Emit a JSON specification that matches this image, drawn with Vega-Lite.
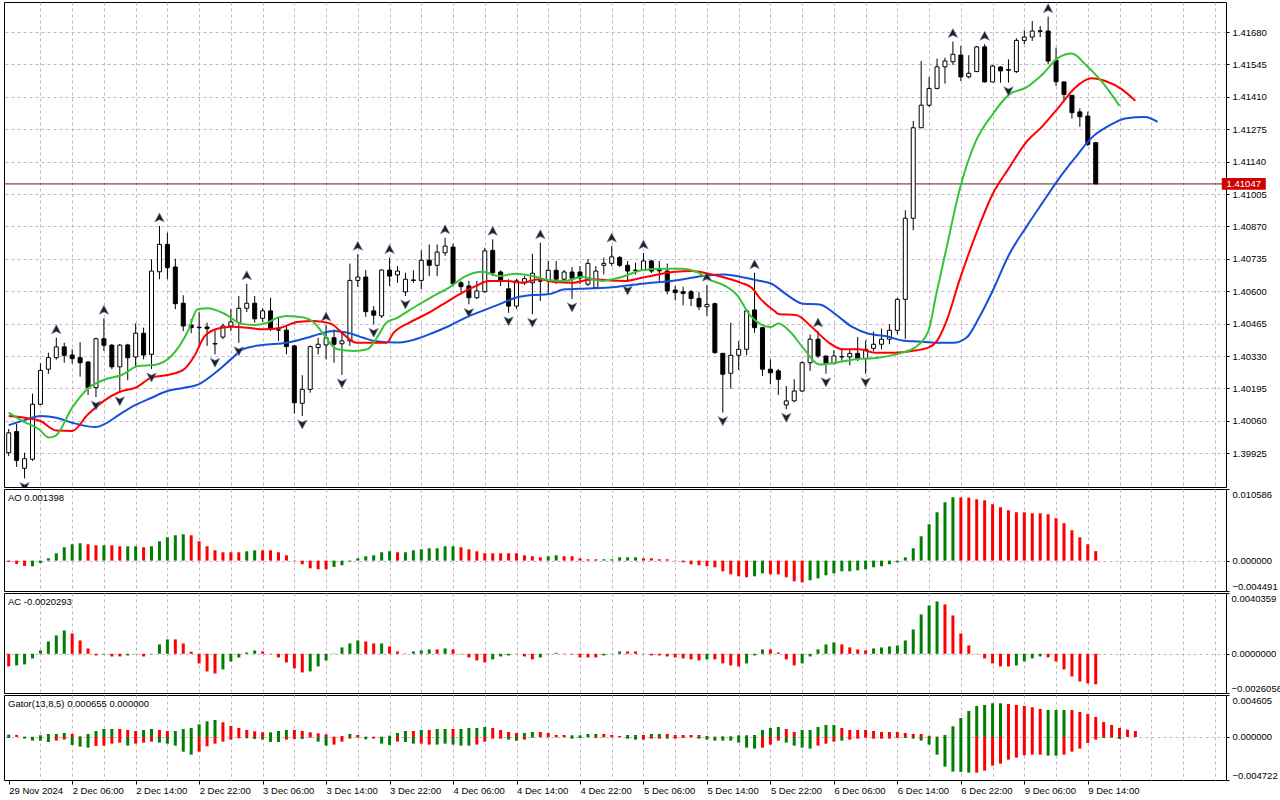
{
  "$schema": "https://vega.github.io/schema/vega-lite/v6.json",
  "padding": {"left": 3, "top": 1, "right": 0, "bottom": 0},
  "background": "white",
  "spacing": 2,
  "bounds": "flush",
  "resolve": {"scale": {"color": "independent"}},
  "config": {
    "font": "Liberation Sans",
    "view": {"stroke": "black", "strokeWidth": 1},
    "axis": {"labelFont": "Liberation Sans", "labelFontSize": 9.5, "labelColor": "black", "gridColor": "#c4b4c4", "gridDash": [3, 3], "gridWidth": 1, "domain": false, "title": null, "labelOverlap": false},
    "title": {"font": "Liberation Sans", "fontSize": 9.5, "fontWeight": "normal", "color": "black", "anchor": "start", "orient": "top", "frame": "group", "offset": -14, "dx": 4}
  },
  "datasets": {
    "bars": [
      {"i":0,"o":1.39927,"h":1.40026,"l":1.39913,"c":1.40010,"ao":-0.000197,"aos":"down","ac":-0.000841,"acs":"down"},
      {"i":1,"o":1.40015,"h":1.40048,"l":1.39868,"c":1.39895,"ao":-0.000493,"aos":"down","ac":-0.000775,"acs":"up"},
      {"i":2,"o":1.39862,"h":1.39927,"l":1.39820,"c":1.39902,"ao":-0.000789,"aos":"down","ac":-0.000708,"acs":"up"},
      {"i":3,"o":1.39900,"h":1.40173,"l":1.39893,"c":1.40129,"ao":-0.000838,"aos":"up","ac":-0.000310,"acs":"up"},
      {"i":4,"o":1.40129,"h":1.40300,"l":1.40126,"c":1.40270,"ao":-0.000345,"aos":"up","ac":0.000221,"acs":"up"},
      {"i":5,"o":1.40275,"h":1.40344,"l":1.40256,"c":1.40323,"ao":0.000345,"aos":"up","ac":0.000819,"acs":"up"},
      {"i":6,"o":1.40323,"h":1.40406,"l":1.40315,"c":1.40368,"ao":0.001085,"aos":"up","ac":0.001218,"acs":"up"},
      {"i":7,"o":1.40368,"h":1.40385,"l":1.40302,"c":1.40333,"ao":0.001972,"aos":"up","ac":0.001550,"acs":"up"},
      {"i":8,"o":1.40334,"h":1.40358,"l":1.40298,"c":1.40319,"ao":0.002416,"aos":"up","ac":0.001351,"acs":"down"},
      {"i":9,"o":1.40323,"h":1.40388,"l":1.40244,"c":1.40302,"ao":0.002564,"aos":"up","ac":0.000886,"acs":"down"},
      {"i":10,"o":1.40305,"h":1.40309,"l":1.40168,"c":1.40198,"ao":0.002416,"aos":"down","ac":0.000354,"acs":"down"},
      {"i":11,"o":1.40198,"h":1.40406,"l":1.40159,"c":1.40402,"ao":0.002268,"aos":"down","ac":-0.000111,"acs":"down"},
      {"i":12,"o":1.40402,"h":1.40487,"l":1.40351,"c":1.40375,"ao":0.002268,"aos":"up","ac":-0.000044,"acs":"up"},
      {"i":13,"o":1.40375,"h":1.40380,"l":1.40275,"c":1.40285,"ao":0.002268,"aos":"down","ac":-0.000177,"acs":"down"},
      {"i":14,"o":1.40285,"h":1.40380,"l":1.40177,"c":1.40375,"ao":0.002120,"aos":"down","ac":-0.000177,"acs":"down"},
      {"i":15,"o":1.40376,"h":1.40381,"l":1.40229,"c":1.40323,"ao":0.002120,"aos":"up","ac":-0.000111,"acs":"up"},
      {"i":16,"o":1.40326,"h":1.40466,"l":1.40284,"c":1.40425,"ao":0.002120,"aos":"up","ac":-0.000022,"acs":"up"},
      {"i":17,"o":1.40425,"h":1.40448,"l":1.40316,"c":1.40334,"ao":0.001972,"aos":"down","ac":-0.000177,"acs":"down"},
      {"i":18,"o":1.40337,"h":1.40733,"l":1.40276,"c":1.40684,"ao":0.002120,"aos":"up","ac":-0.000022,"acs":"up"},
      {"i":19,"o":1.40681,"h":1.40872,"l":1.40650,"c":1.40795,"ao":0.002859,"aos":"up","ac":0.000620,"acs":"up"},
      {"i":20,"o":1.40795,"h":1.40844,"l":1.40650,"c":1.40698,"ao":0.003451,"aos":"up","ac":0.000952,"acs":"up"},
      {"i":21,"o":1.40701,"h":1.40735,"l":1.40525,"c":1.40548,"ao":0.003747,"aos":"up","ac":0.000952,"acs":"down"},
      {"i":22,"o":1.40550,"h":1.40583,"l":1.40434,"c":1.40455,"ao":0.003895,"aos":"up","ac":0.000686,"acs":"down"},
      {"i":23,"o":1.40459,"h":1.40485,"l":1.40425,"c":1.40448,"ao":0.003747,"aos":"down","ac":0.000133,"acs":"down"},
      {"i":24,"o":1.40450,"h":1.40513,"l":1.40365,"c":1.40448,"ao":0.002859,"aos":"down","ac":-0.000642,"acs":"down"},
      {"i":25,"o":1.40451,"h":1.40469,"l":1.40372,"c":1.40444,"ao":0.002120,"aos":"down","ac":-0.001173,"acs":"down"},
      {"i":26,"o":1.40382,"h":1.40437,"l":1.40337,"c":1.40380,"ao":0.001528,"aos":"down","ac":-0.001306,"acs":"down"},
      {"i":27,"o":1.40409,"h":1.40465,"l":1.40400,"c":1.40455,"ao":0.001233,"aos":"down","ac":-0.001041,"acs":"up"},
      {"i":28,"o":1.40455,"h":1.40525,"l":1.40434,"c":1.40472,"ao":0.001233,"aos":"down","ac":-0.000509,"acs":"up"},
      {"i":29,"o":1.40469,"h":1.40580,"l":1.40385,"c":1.40529,"ao":0.001233,"aos":"down","ac":-0.000244,"acs":"up"},
      {"i":30,"o":1.40529,"h":1.40631,"l":1.40513,"c":1.40550,"ao":0.001380,"aos":"up","ac":0.000089,"acs":"up"},
      {"i":31,"o":1.40550,"h":1.40580,"l":1.40469,"c":1.40485,"ao":0.001528,"aos":"up","ac":0.000221,"acs":"up"},
      {"i":32,"o":1.40487,"h":1.40529,"l":1.40473,"c":1.40518,"ao":0.001528,"aos":"down","ac":0.000155,"acs":"down"},
      {"i":33,"o":1.40518,"h":1.40573,"l":1.40434,"c":1.40445,"ao":0.001528,"aos":"down","ac":-0.000022,"acs":"down"},
      {"i":34,"o":1.40439,"h":1.40490,"l":1.40393,"c":1.40438,"ao":0.001233,"aos":"down","ac":-0.000244,"acs":"down"},
      {"i":35,"o":1.40438,"h":1.40455,"l":1.40337,"c":1.40369,"ao":0.000789,"aos":"down","ac":-0.000576,"acs":"down"},
      {"i":36,"o":1.40372,"h":1.40376,"l":1.40090,"c":1.40135,"ao":-0.000049,"aos":"down","ac":-0.000974,"acs":"down"},
      {"i":37,"o":1.40133,"h":1.40250,"l":1.40080,"c":1.40191,"ao":-0.000542,"aos":"down","ac":-0.001240,"acs":"down"},
      {"i":38,"o":1.40191,"h":1.40374,"l":1.40177,"c":1.40369,"ao":-0.001134,"aos":"down","ac":-0.001173,"acs":"up"},
      {"i":39,"o":1.40365,"h":1.40406,"l":1.40337,"c":1.40379,"ao":-0.001282,"aos":"down","ac":-0.000841,"acs":"up"},
      {"i":40,"o":1.40376,"h":1.40459,"l":1.40316,"c":1.40406,"ao":-0.001282,"aos":"down","ac":-0.000443,"acs":"up"},
      {"i":41,"o":1.40406,"h":1.40441,"l":1.40302,"c":1.40379,"ao":-0.000937,"aos":"up","ac":0.000022,"acs":"up"},
      {"i":42,"o":1.40381,"h":1.40431,"l":1.40251,"c":1.40393,"ao":-0.000690,"aos":"up","ac":0.000421,"acs":"up"},
      {"i":43,"o":1.40393,"h":1.40715,"l":1.40372,"c":1.40645,"ao":-0.000148,"aos":"up","ac":0.000686,"acs":"up"},
      {"i":44,"o":1.40645,"h":1.40754,"l":1.40618,"c":1.40659,"ao":0.000345,"aos":"up","ac":0.000886,"acs":"up"},
      {"i":45,"o":1.40659,"h":1.40688,"l":1.40493,"c":1.40515,"ao":0.000641,"aos":"up","ac":0.000819,"acs":"down"},
      {"i":46,"o":1.40518,"h":1.40538,"l":1.40462,"c":1.40500,"ao":0.000789,"aos":"up","ac":0.000686,"acs":"down"},
      {"i":47,"o":1.40497,"h":1.40691,"l":1.40488,"c":1.40688,"ao":0.001233,"aos":"up","ac":0.000686,"acs":"up"},
      {"i":48,"o":1.40688,"h":1.40740,"l":1.40622,"c":1.40663,"ao":0.001380,"aos":"up","ac":0.000487,"acs":"down"},
      {"i":49,"o":1.40668,"h":1.40705,"l":1.40635,"c":1.40684,"ao":0.001233,"aos":"down","ac":0.000155,"acs":"down"},
      {"i":50,"o":1.40597,"h":1.40677,"l":1.40580,"c":1.40650,"ao":0.001233,"aos":"up","ac":0.000022,"acs":"down"},
      {"i":51,"o":1.40647,"h":1.40687,"l":1.40635,"c":1.40645,"ao":0.001528,"aos":"up","ac":0.000155,"acs":"up"},
      {"i":52,"o":1.40645,"h":1.40770,"l":1.40608,"c":1.40729,"ao":0.001676,"aos":"up","ac":0.000221,"acs":"up"},
      {"i":53,"o":1.40729,"h":1.40795,"l":1.40663,"c":1.40708,"ao":0.001824,"aos":"up","ac":0.000288,"acs":"up"},
      {"i":54,"o":1.40708,"h":1.40795,"l":1.40663,"c":1.40763,"ao":0.001824,"aos":"up","ac":0.000288,"acs":"down"},
      {"i":55,"o":1.40760,"h":1.40823,"l":1.40747,"c":1.40788,"ao":0.002120,"aos":"up","ac":0.000354,"acs":"up"},
      {"i":56,"o":1.40784,"h":1.40798,"l":1.40622,"c":1.40631,"ao":0.002120,"aos":"up","ac":0.000288,"acs":"down"},
      {"i":57,"o":1.40635,"h":1.40643,"l":1.40594,"c":1.40619,"ao":0.001972,"aos":"down","ac":-0.000022,"acs":"down"},
      {"i":58,"o":1.40622,"h":1.40643,"l":1.40545,"c":1.40573,"ao":0.001676,"aos":"down","ac":-0.000244,"acs":"down"},
      {"i":59,"o":1.40573,"h":1.40643,"l":1.40568,"c":1.40601,"ao":0.001380,"aos":"down","ac":-0.000443,"acs":"down"},
      {"i":60,"o":1.40598,"h":1.40781,"l":1.40593,"c":1.40768,"ao":0.001085,"aos":"down","ac":-0.000576,"acs":"down"},
      {"i":61,"o":1.40770,"h":1.40816,"l":1.40663,"c":1.40677,"ao":0.001085,"aos":"down","ac":-0.000376,"acs":"up"},
      {"i":62,"o":1.40680,"h":1.40687,"l":1.40622,"c":1.40643,"ao":0.001085,"aos":"down","ac":-0.000177,"acs":"up"},
      {"i":63,"o":1.40610,"h":1.40650,"l":1.40510,"c":1.40538,"ao":0.001085,"aos":"down","ac":-0.000111,"acs":"up"},
      {"i":64,"o":1.40538,"h":1.40651,"l":1.40526,"c":1.40643,"ao":0.001085,"aos":"down","ac":-0.000022,"acs":"up"},
      {"i":65,"o":1.40635,"h":1.40663,"l":1.40626,"c":1.40652,"ao":0.000789,"aos":"down","ac":-0.000177,"acs":"down"},
      {"i":66,"o":1.40635,"h":1.40756,"l":1.40504,"c":1.40675,"ao":0.000641,"aos":"down","ac":-0.000376,"acs":"down"},
      {"i":67,"o":1.40643,"h":1.40802,"l":1.40559,"c":1.40642,"ao":0.000493,"aos":"down","ac":-0.000244,"acs":"up"},
      {"i":68,"o":1.40643,"h":1.40726,"l":1.40588,"c":1.40687,"ao":0.000641,"aos":"up","ac":-0.000022,"acs":"up"},
      {"i":69,"o":1.40687,"h":1.40726,"l":1.40630,"c":1.40650,"ao":0.000789,"aos":"up","ac":0.000066,"acs":"up"},
      {"i":70,"o":1.40650,"h":1.40688,"l":1.40643,"c":1.40680,"ao":0.000641,"aos":"down","ac":-0.000022,"acs":"down"},
      {"i":71,"o":1.40680,"h":1.40701,"l":1.40568,"c":1.40654,"ao":0.000641,"aos":"down","ac":-0.000044,"acs":"down"},
      {"i":72,"o":1.40680,"h":1.40705,"l":1.40630,"c":1.40655,"ao":0.000345,"aos":"down","ac":-0.000244,"acs":"down"},
      {"i":73,"o":1.40629,"h":1.40734,"l":1.40622,"c":1.40716,"ao":0.000197,"aos":"down","ac":-0.000244,"acs":"down"},
      {"i":74,"o":1.40615,"h":1.40705,"l":1.40609,"c":1.40684,"ao":0.000197,"aos":"down","ac":-0.000244,"acs":"down"},
      {"i":75,"o":1.40708,"h":1.40740,"l":1.40670,"c":1.40716,"ao":0.000197,"aos":"up","ac":-0.000111,"acs":"up"},
      {"i":76,"o":1.40716,"h":1.40788,"l":1.40705,"c":1.40743,"ao":0.000197,"aos":"up","ac":-0.000022,"acs":"up"},
      {"i":77,"o":1.40740,"h":1.40747,"l":1.40701,"c":1.40708,"ao":0.000493,"aos":"up","ac":0.000155,"acs":"up"},
      {"i":78,"o":1.40708,"h":1.40726,"l":1.40638,"c":1.40684,"ao":0.000493,"aos":"up","ac":0.000155,"acs":"down"},
      {"i":79,"o":1.40688,"h":1.40719,"l":1.40670,"c":1.40686,"ao":0.000493,"aos":"up","ac":0.000155,"acs":"down"},
      {"i":80,"o":1.40687,"h":1.40759,"l":1.40684,"c":1.40726,"ao":0.000345,"aos":"down","ac":-0.000022,"acs":"down"},
      {"i":81,"o":1.40726,"h":1.40730,"l":1.40676,"c":1.40684,"ao":0.000345,"aos":"down","ac":-0.000111,"acs":"down"},
      {"i":82,"o":1.40689,"h":1.40726,"l":1.40643,"c":1.40685,"ao":0.000197,"aos":"down","ac":-0.000111,"acs":"down"},
      {"i":83,"o":1.40684,"h":1.40715,"l":1.40587,"c":1.40601,"ao":0.000197,"aos":"down","ac":-0.000177,"acs":"down"},
      {"i":84,"o":1.40605,"h":1.40622,"l":1.40562,"c":1.40594,"ao":-0.000049,"aos":"down","ac":-0.000244,"acs":"down"},
      {"i":85,"o":1.40598,"h":1.40619,"l":1.40541,"c":1.40591,"ao":-0.000247,"aos":"down","ac":-0.000310,"acs":"down"},
      {"i":86,"o":1.40598,"h":1.40605,"l":1.40538,"c":1.40570,"ao":-0.000542,"aos":"down","ac":-0.000376,"acs":"down"},
      {"i":87,"o":1.40570,"h":1.40597,"l":1.40522,"c":1.40535,"ao":-0.000690,"aos":"down","ac":-0.000443,"acs":"down"},
      {"i":88,"o":1.40535,"h":1.40625,"l":1.40497,"c":1.40545,"ao":-0.000838,"aos":"down","ac":-0.000376,"acs":"up"},
      {"i":89,"o":1.40548,"h":1.40552,"l":1.40340,"c":1.40344,"ao":-0.000986,"aos":"down","ac":-0.000376,"acs":"down"},
      {"i":90,"o":1.40341,"h":1.40343,"l":1.40094,"c":1.40254,"ao":-0.001578,"aos":"down","ac":-0.000642,"acs":"down"},
      {"i":91,"o":1.40258,"h":1.40469,"l":1.40194,"c":1.40333,"ao":-0.002021,"aos":"down","ac":-0.000775,"acs":"down"},
      {"i":92,"o":1.40333,"h":1.40393,"l":1.40272,"c":1.40358,"ao":-0.002317,"aos":"down","ac":-0.000841,"acs":"down"},
      {"i":93,"o":1.40358,"h":1.40525,"l":1.40333,"c":1.40518,"ao":-0.002465,"aos":"down","ac":-0.000642,"acs":"up"},
      {"i":94,"o":1.40522,"h":1.40677,"l":1.40427,"c":1.40448,"ao":-0.002317,"aos":"up","ac":-0.000111,"acs":"up"},
      {"i":95,"o":1.40448,"h":1.40451,"l":1.40247,"c":1.40275,"ao":-0.001873,"aos":"up","ac":0.000288,"acs":"up"},
      {"i":96,"o":1.40275,"h":1.40316,"l":1.40212,"c":1.40260,"ao":-0.002021,"aos":"down","ac":0.000288,"acs":"down"},
      {"i":97,"o":1.40268,"h":1.40276,"l":1.40168,"c":1.40233,"ao":-0.002021,"aos":"down","ac":0.000089,"acs":"down"},
      {"i":98,"o":1.40126,"h":1.40205,"l":1.40108,"c":1.40143,"ao":-0.002465,"aos":"down","ac":-0.000376,"acs":"down"},
      {"i":99,"o":1.40143,"h":1.40233,"l":1.40138,"c":1.40184,"ao":-0.003057,"aos":"down","ac":-0.000775,"acs":"down"},
      {"i":100,"o":1.40184,"h":1.40309,"l":1.40180,"c":1.40302,"ao":-0.003205,"aos":"down","ac":-0.000642,"acs":"up"},
      {"i":101,"o":1.40302,"h":1.40420,"l":1.40268,"c":1.40400,"ao":-0.002909,"aos":"up","ac":-0.000177,"acs":"up"},
      {"i":102,"o":1.40400,"h":1.40434,"l":1.40322,"c":1.40330,"ao":-0.002613,"aos":"up","ac":0.000288,"acs":"up"},
      {"i":103,"o":1.40330,"h":1.40331,"l":1.40256,"c":1.40298,"ao":-0.002169,"aos":"up","ac":0.000620,"acs":"up"},
      {"i":104,"o":1.40298,"h":1.40354,"l":1.40297,"c":1.40330,"ao":-0.001873,"aos":"up","ac":0.000753,"acs":"up"},
      {"i":105,"o":1.40328,"h":1.40362,"l":1.40309,"c":1.40326,"ao":-0.001578,"aos":"up","ac":0.000620,"acs":"down"},
      {"i":106,"o":1.40326,"h":1.40360,"l":1.40291,"c":1.40341,"ao":-0.001578,"aos":"up","ac":0.000421,"acs":"down"},
      {"i":107,"o":1.40341,"h":1.40409,"l":1.40309,"c":1.40319,"ao":-0.001430,"aos":"up","ac":0.000288,"acs":"down"},
      {"i":108,"o":1.40319,"h":1.40395,"l":1.40256,"c":1.40358,"ao":-0.001282,"aos":"up","ac":0.000221,"acs":"down"},
      {"i":109,"o":1.40362,"h":1.40431,"l":1.40351,"c":1.40379,"ao":-0.000986,"aos":"up","ac":0.000354,"acs":"up"},
      {"i":110,"o":1.40379,"h":1.40444,"l":1.40358,"c":1.40400,"ao":-0.000838,"aos":"up","ac":0.000421,"acs":"up"},
      {"i":111,"o":1.40400,"h":1.40462,"l":1.40379,"c":1.40437,"ao":-0.000542,"aos":"up","ac":0.000487,"acs":"up"},
      {"i":112,"o":1.40437,"h":1.40573,"l":1.40420,"c":1.40566,"ao":-0.000247,"aos":"up","ac":0.000554,"acs":"up"},
      {"i":113,"o":1.40566,"h":1.40937,"l":1.40401,"c":1.40904,"ao":0.000493,"aos":"up","ac":0.000886,"acs":"up"},
      {"i":114,"o":1.40904,"h":1.41309,"l":1.40854,"c":1.41281,"ao":0.001824,"aos":"up","ac":0.001616,"acs":"up"},
      {"i":115,"o":1.41281,"h":1.41559,"l":1.41280,"c":1.41375,"ao":0.003599,"aos":"up","ac":0.002613,"acs":"up"},
      {"i":116,"o":1.41375,"h":1.41493,"l":1.41368,"c":1.41445,"ao":0.005374,"aos":"up","ac":0.003210,"acs":"up"},
      {"i":117,"o":1.41445,"h":1.41569,"l":1.41441,"c":1.41535,"ao":0.007149,"aos":"up","ac":0.003476,"acs":"up"},
      {"i":118,"o":1.41535,"h":1.41573,"l":1.41465,"c":1.41559,"ao":0.008628,"aos":"up","ac":0.003277,"acs":"down"},
      {"i":119,"o":1.41556,"h":1.41640,"l":1.41543,"c":1.41587,"ao":0.009367,"aos":"up","ac":0.002546,"acs":"down"},
      {"i":120,"o":1.41584,"h":1.41622,"l":1.41476,"c":1.41493,"ao":0.009340,"aos":"down","ac":0.001351,"acs":"down"},
      {"i":121,"o":1.41493,"h":1.41583,"l":1.41487,"c":1.41508,"ao":0.009310,"aos":"down","ac":0.000554,"acs":"down"},
      {"i":122,"o":1.41515,"h":1.41622,"l":1.41513,"c":1.41618,"ao":0.009071,"aos":"down","ac":-0.000022,"acs":"down"},
      {"i":123,"o":1.41618,"h":1.41629,"l":1.41469,"c":1.41472,"ao":0.008923,"aos":"down","ac":-0.000310,"acs":"down"},
      {"i":124,"o":1.41472,"h":1.41543,"l":1.41471,"c":1.41538,"ao":0.008332,"aos":"down","ac":-0.000642,"acs":"down"},
      {"i":125,"o":1.41534,"h":1.41538,"l":1.41469,"c":1.41518,"ao":0.007888,"aos":"down","ac":-0.000841,"acs":"down"},
      {"i":126,"o":1.41523,"h":1.41566,"l":1.41469,"c":1.41521,"ao":0.007444,"aos":"down","ac":-0.000845,"acs":"down"},
      {"i":127,"o":1.41515,"h":1.41654,"l":1.41509,"c":1.41645,"ao":0.007149,"aos":"down","ac":-0.000775,"acs":"up"},
      {"i":128,"o":1.41645,"h":1.41687,"l":1.41629,"c":1.41659,"ao":0.007140,"aos":"down","ac":-0.000509,"acs":"up"},
      {"i":129,"o":1.41659,"h":1.41726,"l":1.41643,"c":1.41684,"ao":0.007001,"aos":"down","ac":-0.000310,"acs":"up"},
      {"i":130,"o":1.41685,"h":1.41705,"l":1.41659,"c":1.41683,"ao":0.006990,"aos":"down","ac":-0.000177,"acs":"up"},
      {"i":131,"o":1.41684,"h":1.41744,"l":1.41545,"c":1.41559,"ao":0.006853,"aos":"down","ac":-0.000244,"acs":"down"},
      {"i":132,"o":1.41562,"h":1.41615,"l":1.41455,"c":1.41473,"ao":0.006261,"aos":"down","ac":-0.000509,"acs":"down"},
      {"i":133,"o":1.41472,"h":1.41473,"l":1.41393,"c":1.41420,"ao":0.005522,"aos":"down","ac":-0.001041,"acs":"down"},
      {"i":134,"o":1.41416,"h":1.41417,"l":1.41319,"c":1.41344,"ao":0.004486,"aos":"down","ac":-0.001506,"acs":"down"},
      {"i":135,"o":1.41347,"h":1.41362,"l":1.41285,"c":1.41327,"ao":0.003451,"aos":"down","ac":-0.001838,"acs":"down"},
      {"i":136,"o":1.41330,"h":1.41348,"l":1.41205,"c":1.41212,"ao":0.002416,"aos":"down","ac":-0.001970,"acs":"down"},
      {"i":137,"o":1.41219,"h":1.41219,"l":1.41047,"c":1.41047,"ao":0.001398,"aos":"down","ac":-0.0020293,"acs":"down"}
    ],
    "lines": [
      {"s":"jaw","i":0,"p":1.40042},{"s":"jaw","i":2,"p":1.40063},{"s":"jaw","i":4,"p":1.40080},{"s":"jaw","i":6,"p":1.40073},{"s":"jaw","i":8,"p":1.40052},{"s":"jaw","i":11,"p":1.40034},{"s":"jaw","i":12,"p":1.40045},{"s":"jaw","i":14,"p":1.40087},{"s":"jaw","i":16,"p":1.40126},{"s":"jaw","i":18,"p":1.40156},{"s":"jaw","i":20,"p":1.40184},{"s":"jaw","i":22,"p":1.40197},{"s":"jaw","i":24,"p":1.40213},{"s":"jaw","i":26,"p":1.40259},{"s":"jaw","i":28,"p":1.40316},{"s":"jaw","i":29.5,"p":1.40358},{"s":"jaw","i":32,"p":1.40376},{"s":"jaw","i":35,"p":1.40385},{"s":"jaw","i":37.6,"p":1.40406},{"s":"jaw","i":39,"p":1.40420},{"s":"jaw","i":41,"p":1.40434},{"s":"jaw","i":42.7,"p":1.40427},{"s":"jaw","i":44.7,"p":1.40406},{"s":"jaw","i":46,"p":1.40393},{"s":"jaw","i":49,"p":1.40386},{"s":"jaw","i":50.5,"p":1.40393},{"s":"jaw","i":53.5,"p":1.40427},{"s":"jaw","i":55.5,"p":1.40455},{"s":"jaw","i":57.6,"p":1.40490},{"s":"jaw","i":59.7,"p":1.40518},{"s":"jaw","i":61.8,"p":1.40545},{"s":"jaw","i":63.9,"p":1.40573},{"s":"jaw","i":66,"p":1.40584},{"s":"jaw","i":68,"p":1.40587},{"s":"jaw","i":70.1,"p":1.40608},{"s":"jaw","i":72,"p":1.40610},{"s":"jaw","i":75.7,"p":1.40615},{"s":"jaw","i":79.8,"p":1.40631},{"s":"jaw","i":84,"p":1.40645},{"s":"jaw","i":86.1,"p":1.40656},{"s":"jaw","i":88.2,"p":1.40666},{"s":"jaw","i":90.3,"p":1.40670},{"s":"jaw","i":92.3,"p":1.40659},{"s":"jaw","i":94.4,"p":1.40645},{"s":"jaw","i":96.2,"p":1.40630},{"s":"jaw","i":98,"p":1.40587},{"s":"jaw","i":100.1,"p":1.40548},{"s":"jaw","i":102.2,"p":1.40545},{"s":"jaw","i":104.2,"p":1.40504},{"s":"jaw","i":106.3,"p":1.40451},{"s":"jaw","i":108.4,"p":1.40423},{"s":"jaw","i":110.5,"p":1.40413},{"s":"jaw","i":112.6,"p":1.40395},{"s":"jaw","i":114.7,"p":1.40390},{"s":"jaw","i":117,"p":1.40385},{"s":"jaw","i":119,"p":1.40385},{"s":"jaw","i":120.7,"p":1.40406},{"s":"jaw","i":122.3,"p":1.40490},{"s":"jaw","i":124,"p":1.40601},{"s":"jaw","i":126.1,"p":1.40754},{"s":"jaw","i":128.2,"p":1.40865},{"s":"jaw","i":130.3,"p":1.40969},{"s":"jaw","i":132.3,"p":1.41066},{"s":"jaw","i":134.4,"p":1.41156},{"s":"jaw","i":136.5,"p":1.41240},{"s":"jaw","i":138.6,"p":1.41288},{"s":"jaw","i":140.7,"p":1.41320},{"s":"jaw","i":143.2,"p":1.41326},{"s":"jaw","i":144.8,"p":1.41306},
      {"s":"teeth","i":0,"p":1.40080},{"s":"teeth","i":2,"p":1.40073},{"s":"teeth","i":4,"p":1.40059},{"s":"teeth","i":6,"p":1.40020},{"s":"teeth","i":8,"p":1.40018},{"s":"teeth","i":10,"p":1.40087},{"s":"teeth","i":12,"p":1.40143},{"s":"teeth","i":14,"p":1.40181},{"s":"teeth","i":16,"p":1.40198},{"s":"teeth","i":18,"p":1.40240},{"s":"teeth","i":20,"p":1.40251},{"s":"teeth","i":22,"p":1.40272},{"s":"teeth","i":23.4,"p":1.40330},{"s":"teeth","i":24.7,"p":1.40413},{"s":"teeth","i":26.4,"p":1.40445},{"s":"teeth","i":28.1,"p":1.40452},{"s":"teeth","i":30.1,"p":1.40448},{"s":"teeth","i":32.2,"p":1.40441},{"s":"teeth","i":34.3,"p":1.40448},{"s":"teeth","i":36.4,"p":1.40472},{"s":"teeth","i":38.5,"p":1.40476},{"s":"teeth","i":40.6,"p":1.40465},{"s":"teeth","i":42.2,"p":1.40420},{"s":"teeth","i":43.9,"p":1.40385},{"s":"teeth","i":47.6,"p":1.40385},{"s":"teeth","i":48.5,"p":1.40426},{"s":"teeth","i":50.5,"p":1.40469},{"s":"teeth","i":52.6,"p":1.40504},{"s":"teeth","i":54.7,"p":1.40545},{"s":"teeth","i":56.8,"p":1.40587},{"s":"teeth","i":58.9,"p":1.40622},{"s":"teeth","i":60.5,"p":1.40643},{"s":"teeth","i":62.6,"p":1.40643},{"s":"teeth","i":64.7,"p":1.40635},{"s":"teeth","i":66.8,"p":1.40650},{"s":"teeth","i":68.9,"p":1.40638},{"s":"teeth","i":71,"p":1.40635},{"s":"teeth","i":73.6,"p":1.40650},{"s":"teeth","i":75.7,"p":1.40645},{"s":"teeth","i":77.8,"p":1.40643},{"s":"teeth","i":79.8,"p":1.40656},{"s":"teeth","i":81.9,"p":1.40670},{"s":"teeth","i":84,"p":1.40681},{"s":"teeth","i":86.1,"p":1.40684},{"s":"teeth","i":88.2,"p":1.40673},{"s":"teeth","i":90.3,"p":1.40656},{"s":"teeth","i":92.3,"p":1.40635},{"s":"teeth","i":93.6,"p":1.40615},{"s":"teeth","i":94.8,"p":1.40566},{"s":"teeth","i":96.5,"p":1.40518},{"s":"teeth","i":97.1,"p":1.40504},{"s":"teeth","i":99.2,"p":1.40501},{"s":"teeth","i":101.3,"p":1.40448},{"s":"teeth","i":103.4,"p":1.40385},{"s":"teeth","i":105.1,"p":1.40358},{"s":"teeth","i":107.2,"p":1.40358},{"s":"teeth","i":109.2,"p":1.40344},{"s":"teeth","i":111.7,"p":1.40344},{"s":"teeth","i":113.8,"p":1.40351},{"s":"teeth","i":115.9,"p":1.40365},{"s":"teeth","i":117,"p":1.40393},{"s":"teeth","i":118.2,"p":1.40476},{"s":"teeth","i":119.8,"p":1.40643},{"s":"teeth","i":121.9,"p":1.40837},{"s":"teeth","i":124,"p":1.41004},{"s":"teeth","i":126.1,"p":1.41115},{"s":"teeth","i":128.2,"p":1.41219},{"s":"teeth","i":130.3,"p":1.41288},{"s":"teeth","i":132.3,"p":1.41365},{"s":"teeth","i":134.4,"p":1.41448},{"s":"teeth","i":136.5,"p":1.41487},{"s":"teeth","i":138.2,"p":1.41476},{"s":"teeth","i":140.3,"p":1.41441},{"s":"teeth","i":142,"p":1.41393},
      {"s":"lips","i":0,"p":1.40094},{"s":"lips","i":1.75,"p":1.40059},{"s":"lips","i":3.8,"p":1.40025},{"s":"lips","i":5.1,"p":1.39990},{"s":"lips","i":5.9,"p":1.39997},{"s":"lips","i":8,"p":1.40115},{"s":"lips","i":10.1,"p":1.40198},{"s":"lips","i":12.2,"p":1.40233},{"s":"lips","i":14.25,"p":1.40251},{"s":"lips","i":16.3,"p":1.40288},{"s":"lips","i":18.4,"p":1.40293},{"s":"lips","i":20.5,"p":1.40330},{"s":"lips","i":22.6,"p":1.40434},{"s":"lips","i":23.8,"p":1.40525},{"s":"lips","i":25.1,"p":1.40529},{"s":"lips","i":27.2,"p":1.40506},{"s":"lips","i":29.3,"p":1.40465},{"s":"lips","i":31,"p":1.40459},{"s":"lips","i":32.6,"p":1.40469},{"s":"lips","i":33.9,"p":1.40490},{"s":"lips","i":35.1,"p":1.40497},{"s":"lips","i":37.2,"p":1.40490},{"s":"lips","i":38.5,"p":1.40469},{"s":"lips","i":39.7,"p":1.40420},{"s":"lips","i":41.4,"p":1.40358},{"s":"lips","i":43.5,"p":1.40351},{"s":"lips","i":45.2,"p":1.40358},{"s":"lips","i":46.4,"p":1.40406},{"s":"lips","i":47.6,"p":1.40469},{"s":"lips","i":48.9,"p":1.40488},{"s":"lips","i":51,"p":1.40531},{"s":"lips","i":53.5,"p":1.40580},{"s":"lips","i":55.5,"p":1.40615},{"s":"lips","i":57.6,"p":1.40663},{"s":"lips","i":59.7,"p":1.40681},{"s":"lips","i":61.8,"p":1.40663},{"s":"lips","i":63.9,"p":1.40673},{"s":"lips","i":66,"p":1.40663},{"s":"lips","i":68,"p":1.40647},{"s":"lips","i":70.1,"p":1.40643},{"s":"lips","i":72.2,"p":1.40659},{"s":"lips","i":73.6,"p":1.40650},{"s":"lips","i":74.8,"p":1.40643},{"s":"lips","i":76.9,"p":1.40656},{"s":"lips","i":79.8,"p":1.40687},{"s":"lips","i":81.9,"p":1.40694},{"s":"lips","i":84.8,"p":1.40694},{"s":"lips","i":86.9,"p":1.40677},{"s":"lips","i":88.2,"p":1.40650},{"s":"lips","i":90.3,"p":1.40622},{"s":"lips","i":91.9,"p":1.40580},{"s":"lips","i":93.2,"p":1.40510},{"s":"lips","i":94.8,"p":1.40462},{"s":"lips","i":96,"p":1.40451},{"s":"lips","i":97,"p":1.40465},{"s":"lips","i":98.4,"p":1.40434},{"s":"lips","i":100.1,"p":1.40365},{"s":"lips","i":102.2,"p":1.40295},{"s":"lips","i":104.2,"p":1.40302},{"s":"lips","i":106.7,"p":1.40316},{"s":"lips","i":109.6,"p":1.40323},{"s":"lips","i":112.6,"p":1.40344},{"s":"lips","i":114.2,"p":1.40365},{"s":"lips","i":115.9,"p":1.40434},{"s":"lips","i":116.9,"p":1.40587},{"s":"lips","i":118.2,"p":1.40781},{"s":"lips","i":119.8,"p":1.41018},{"s":"lips","i":121.9,"p":1.41226},{"s":"lips","i":124,"p":1.41337},{"s":"lips","i":126.1,"p":1.41420},{"s":"lips","i":128.2,"p":1.41448},{"s":"lips","i":130.3,"p":1.41504},{"s":"lips","i":132.3,"p":1.41573},{"s":"lips","i":134,"p":1.41590},{"s":"lips","i":135.7,"p":1.41545},{"s":"lips","i":137.7,"p":1.41476},{"s":"lips","i":140,"p":1.41372}
    ],
    "fractals": [
      {"i":6,"t":"up","p":1.40406},{"i":12,"t":"up","p":1.40487},{"i":19,"t":"up","p":1.40872},{"i":30,"t":"up","p":1.40631},{"i":40,"t":"up","p":1.40459},{"i":44,"t":"up","p":1.40754},{"i":48,"t":"up","p":1.40740},{"i":55,"t":"up","p":1.40823},{"i":61,"t":"up","p":1.40816},{"i":67,"t":"up","p":1.40802},{"i":76,"t":"up","p":1.40788},{"i":80,"t":"up","p":1.40759},{"i":88,"t":"up","p":1.40625},{"i":94,"t":"up","p":1.40677},{"i":102,"t":"up","p":1.40434},{"i":119,"t":"up","p":1.41640},{"i":123,"t":"up","p":1.41629},{"i":131,"t":"up","p":1.41744},
      {"i":2,"t":"down","p":1.39820},{"i":11,"t":"down","p":1.40159},{"i":14,"t":"down","p":1.40177},{"i":18,"t":"down","p":1.40276},{"i":26,"t":"down","p":1.40337},{"i":29,"t":"down","p":1.40385},{"i":37,"t":"down","p":1.40080},{"i":42,"t":"down","p":1.40251},{"i":46,"t":"down","p":1.40462},{"i":50,"t":"down","p":1.40580},{"i":58,"t":"down","p":1.40545},{"i":63,"t":"down","p":1.40510},{"i":66,"t":"down","p":1.40504},{"i":71,"t":"down","p":1.40568},{"i":78,"t":"down","p":1.40638},{"i":90,"t":"down","p":1.40094},{"i":98,"t":"down","p":1.40108},{"i":103,"t":"down","p":1.40256},{"i":108,"t":"down","p":1.40256},{"i":126,"t":"down","p":1.41469}
    ],
    "gator": [
      {"i":0,"gu":0.000256,"gus":"up","gd":-0.000110,"gds":"up"},
      {"i":1,"gu":0.000219,"gus":"down"},
      {"i":2,"gu":0.000037,"gus":"up","gd":-0.000183,"gds":"up"},
      {"i":3,"gu":0.000018,"gus":"up","gd":-0.000402,"gds":"up"},
      {"i":4,"gu":0.000183,"gus":"up","gd":-0.000402,"gds":"up"},
      {"i":5,"gu":0.000329,"gus":"up","gd":-0.000549,"gds":"up"},
      {"i":6,"gu":0.000329,"gus":"up","gd":-0.000402,"gds":"down"},
      {"i":7,"gu":0.000439,"gus":"up","gd":-0.000293,"gds":"down"},
      {"i":8,"gu":0.000329,"gus":"down","gd":-0.000878,"gds":"up"},
      {"i":9,"gu":0.000073,"gus":"down","gd":-0.001061,"gds":"up"},
      {"i":10,"gu":0.000329,"gus":"up","gd":-0.001171,"gds":"up"},
      {"i":11,"gu":0.000658,"gus":"up","gd":-0.000988,"gds":"down"},
      {"i":12,"gu":0.000878,"gus":"up","gd":-0.000951,"gds":"down"},
      {"i":13,"gu":0.000878,"gus":"up","gd":-0.000732,"gds":"down"},
      {"i":14,"gu":0.000878,"gus":"down","gd":-0.000622,"gds":"down"},
      {"i":15,"gu":0.000768,"gus":"down","gd":-0.000951,"gds":"up"},
      {"i":16,"gu":0.000658,"gus":"down","gd":-0.000732,"gds":"down"},
      {"i":17,"gu":0.000768,"gus":"up","gd":-0.000622,"gds":"down"},
      {"i":18,"gu":0.000878,"gus":"up","gd":-0.000512,"gds":"down"},
      {"i":19,"gu":0.000768,"gus":"down","gd":-0.000622,"gds":"up"},
      {"i":20,"gu":0.000658,"gus":"down","gd":-0.000732,"gds":"up"},
      {"i":21,"gu":0.000658,"gus":"up","gd":-0.000951,"gds":"up"},
      {"i":22,"gu":0.000878,"gus":"up","gd":-0.001610,"gds":"up"},
      {"i":23,"gu":0.000988,"gus":"up","gd":-0.001939,"gds":"up"},
      {"i":24,"gu":0.001390,"gus":"up","gd":-0.001610,"gds":"down"},
      {"i":25,"gu":0.001719,"gus":"up","gd":-0.001024,"gds":"down"},
      {"i":26,"gu":0.001866,"gus":"up","gd":-0.000732,"gds":"down"},
      {"i":27,"gu":0.001610,"gus":"down","gd":-0.000512,"gds":"down"},
      {"i":28,"gu":0.001207,"gus":"down","gd":-0.000293,"gds":"down"},
      {"i":29,"gu":0.000988,"gus":"down","gd":-0.000146,"gds":"down"},
      {"i":30,"gu":0.000768,"gus":"down","gd":-0.000146,"gds":"up"},
      {"i":31,"gu":0.000622,"gus":"down","gd":-0.000219,"gds":"up"},
      {"i":32,"gu":0.000512,"gus":"down","gd":-0.000293,"gds":"up"},
      {"i":33,"gu":0.000512,"gus":"up","gd":-0.000549,"gds":"up"},
      {"i":34,"gu":0.000658,"gus":"up","gd":-0.000549,"gds":"up"},
      {"i":35,"gu":0.000768,"gus":"up","gd":-0.000293,"gds":"down"},
      {"i":36,"gu":0.000768,"gus":"down","gd":-0.000219,"gds":"down"},
      {"i":37,"gu":0.000658,"gus":"down","gd":-0.000219,"gds":"up"},
      {"i":38,"gu":0.000512,"gus":"down","gd":-0.000073,"gds":"down"},
      {"i":39,"gu":0.000402,"gus":"down","gd":-0.000512,"gds":"up"},
      {"i":40,"gu":0.000293,"gus":"down","gd":-0.000951,"gds":"up"},
      {"i":41,"gu":0.000037,"gus":"down","gd":-0.000841,"gds":"down"},
      {"i":42,"gu":0.000110,"gus":"down","gd":-0.000512,"gds":"down"},
      {"i":43,"gu":0.000329,"gus":"up","gd":-0.000183,"gds":"down"},
      {"i":44,"gu":0.000219,"gus":"down","gd":-0.000073,"gds":"down"},
      {"i":45,"gu":0.000037,"gus":"up","gd":-0.000256,"gds":"up"},
      {"i":46,"gu":0.000037,"gus":"down","gd":-0.000183,"gds":"down"},
      {"i":47,"gu":0.000037,"gus":"up","gd":-0.000732,"gds":"up"},
      {"i":48,"gu":0.000146,"gus":"up","gd":-0.000878,"gds":"up"},
      {"i":49,"gu":0.000439,"gus":"up","gd":-0.000512,"gds":"down"},
      {"i":50,"gu":0.000658,"gus":"up","gd":-0.000549,"gds":"up"},
      {"i":51,"gu":0.000658,"gus":"down","gd":-0.000732,"gds":"up"},
      {"i":52,"gu":0.000768,"gus":"up","gd":-0.000732,"gds":"down"},
      {"i":53,"gu":0.000768,"gus":"down","gd":-0.000841,"gds":"down"},
      {"i":54,"gu":0.000878,"gus":"up","gd":-0.000841,"gds":"up"},
      {"i":55,"gu":0.000878,"gus":"up","gd":-0.000732,"gds":"up"},
      {"i":56,"gu":0.000878,"gus":"down","gd":-0.000841,"gds":"up"},
      {"i":57,"gu":0.000878,"gus":"up","gd":-0.000951,"gds":"up"},
      {"i":58,"gu":0.000988,"gus":"up","gd":-0.000951,"gds":"up"},
      {"i":59,"gu":0.000988,"gus":"up","gd":-0.000841,"gds":"down"},
      {"i":60,"gu":0.001097,"gus":"up","gd":-0.000512,"gds":"down"},
      {"i":61,"gu":0.000988,"gus":"down","gd":-0.000183,"gds":"down"},
      {"i":62,"gu":0.000768,"gus":"down","gd":-0.000183,"gds":"down"},
      {"i":63,"gu":0.000549,"gus":"down","gd":-0.000293,"gds":"up"},
      {"i":64,"gu":0.000439,"gus":"down","gd":-0.000402,"gds":"up"},
      {"i":65,"gu":0.000439,"gus":"up","gd":-0.000293,"gds":"down"},
      {"i":66,"gu":0.000549,"gus":"up","gd":-0.000073,"gds":"up"},
      {"i":67,"gu":0.000549,"gus":"down","gd":-0.000037,"gds":"up"},
      {"i":68,"gu":0.000439,"gus":"down","gd":-0.000037,"gds":"up"},
      {"i":69,"gu":0.000219,"gus":"down","gd":-0.000037,"gds":"up"},
      {"i":70,"gu":0.000219,"gus":"down","gd":-0.000037,"gds":"down"},
      {"i":71,"gu":0.000183,"gus":"up","gd":-0.000183,"gds":"up"},
      {"i":72,"gu":0.000183,"gus":"up","gd":-0.000110,"gds":"up"},
      {"i":73,"gu":0.000329,"gus":"up","gd":-0.000037,"gds":"up"},
      {"i":74,"gu":0.000329,"gus":"up","gd":-0.000110,"gds":"down"},
      {"i":75,"gu":0.000329,"gus":"down","gd":-0.000037,"gds":"down"},
      {"i":76,"gu":0.000219,"gus":"down","gd":-0.000037,"gds":"down"},
      {"i":77,"gu":0.000110,"gus":"down","gd":-0.000037,"gds":"up"},
      {"i":78,"gu":0.000219,"gus":"up","gd":-0.000183,"gds":"up"},
      {"i":79,"gu":0.000219,"gus":"up","gd":-0.000293,"gds":"up"},
      {"i":80,"gu":0.000219,"gus":"down","gd":-0.000293,"gds":"down"},
      {"i":81,"gu":0.000329,"gus":"up","gd":-0.000183,"gds":"down"},
      {"i":82,"gu":0.000329,"gus":"up","gd":-0.000183,"gds":"down"},
      {"i":83,"gu":0.000329,"gus":"down","gd":-0.000183,"gds":"up"},
      {"i":84,"gu":0.000219,"gus":"down","gd":-0.000183,"gds":"down"},
      {"i":85,"gu":0.000219,"gus":"down","gd":-0.000110,"gds":"down"},
      {"i":86,"gu":0.000219,"gus":"down","gd":-0.000037,"gds":"down"},
      {"i":87,"gu":0.000219,"gus":"down","gd":-0.000183,"gds":"up"},
      {"i":88,"gu":0.000110,"gus":"down","gd":-0.000293,"gds":"up"},
      {"i":89,"gu":0.000037,"gus":"down","gd":-0.000402,"gds":"up"},
      {"i":90,"gu":0.000073,"gus":"up","gd":-0.000402,"gds":"up"},
      {"i":91,"gu":0.000073,"gus":"up","gd":-0.000402,"gds":"up"},
      {"i":92,"gu":0.000183,"gus":"up","gd":-0.000622,"gds":"up"},
      {"i":93,"gu":0.000183,"gus":"up","gd":-0.001171,"gds":"up"},
      {"i":94,"gu":0.000219,"gus":"up","gd":-0.001280,"gds":"up"},
      {"i":95,"gu":0.000768,"gus":"up","gd":-0.001171,"gds":"down"},
      {"i":96,"gu":0.000988,"gus":"up","gd":-0.000841,"gds":"down"},
      {"i":97,"gu":0.001097,"gus":"up","gd":-0.000402,"gds":"down"},
      {"i":98,"gu":0.000878,"gus":"down","gd":-0.000622,"gds":"up"},
      {"i":99,"gu":0.000549,"gus":"down","gd":-0.000951,"gds":"up"},
      {"i":100,"gu":0.000768,"gus":"up","gd":-0.001171,"gds":"up"},
      {"i":101,"gu":0.000768,"gus":"up","gd":-0.001280,"gds":"up"},
      {"i":102,"gu":0.001097,"gus":"up","gd":-0.000951,"gds":"down"},
      {"i":103,"gu":0.001317,"gus":"up","gd":-0.000732,"gds":"down"},
      {"i":104,"gu":0.001317,"gus":"up","gd":-0.000512,"gds":"down"},
      {"i":105,"gu":0.000988,"gus":"down","gd":-0.000402,"gds":"up"},
      {"i":106,"gu":0.000768,"gus":"down","gd":-0.000293,"gds":"down"},
      {"i":107,"gu":0.000768,"gus":"down","gd":-0.000183,"gds":"down"},
      {"i":108,"gu":0.000768,"gus":"down","gd":-0.000073,"gds":"down"},
      {"i":109,"gu":0.000658,"gus":"down","gd":-0.000183,"gds":"down"},
      {"i":110,"gu":0.000549,"gus":"down","gd":-0.000183,"gds":"down"},
      {"i":111,"gu":0.000549,"gus":"down","gd":-0.000183,"gds":"down"},
      {"i":112,"gu":0.000549,"gus":"down","gd":-0.000110,"gds":"down"},
      {"i":113,"gu":0.000439,"gus":"down","gd":-0.000110,"gds":"up"},
      {"i":114,"gu":0.000329,"gus":"down","gd":-0.000183,"gds":"up"},
      {"i":115,"gu":0.000329,"gus":"down","gd":-0.000402,"gds":"up"},
      {"i":116,"gu":0.000146,"gus":"down","gd":-0.000841,"gds":"up"},
      {"i":117,"gu":0.000037,"gus":"down","gd":-0.001939,"gds":"up"},
      {"i":118,"gu":0.000219,"gus":"up","gd":-0.003256,"gds":"up"},
      {"i":119,"gu":0.001171,"gus":"up","gd":-0.003804,"gds":"up"},
      {"i":120,"gu":0.002085,"gus":"up","gd":-0.003841,"gds":"up"},
      {"i":121,"gu":0.002853,"gus":"up","gd":-0.003914,"gds":"up"},
      {"i":122,"gu":0.003402,"gus":"up","gd":-0.003914,"gds":"down"},
      {"i":123,"gu":0.003512,"gus":"up","gd":-0.003695,"gds":"down"},
      {"i":124,"gu":0.003695,"gus":"up","gd":-0.003146,"gds":"down"},
      {"i":125,"gu":0.003695,"gus":"up","gd":-0.002926,"gds":"down"},
      {"i":126,"gu":0.003621,"gus":"down","gd":-0.002487,"gds":"down"},
      {"i":127,"gu":0.003512,"gus":"down","gd":-0.002268,"gds":"down"},
      {"i":128,"gu":0.003402,"gus":"down","gd":-0.002012,"gds":"down"},
      {"i":129,"gu":0.003256,"gus":"down","gd":-0.001939,"gds":"down"},
      {"i":130,"gu":0.003073,"gus":"down","gd":-0.001939,"gds":"down"},
      {"i":131,"gu":0.002963,"gus":"up","gd":-0.002048,"gds":"up"},
      {"i":132,"gu":0.002963,"gus":"up","gd":-0.002048,"gds":"up"},
      {"i":133,"gu":0.002963,"gus":"up","gd":-0.001939,"gds":"down"},
      {"i":134,"gu":0.002963,"gus":"down","gd":-0.001610,"gds":"down"},
      {"i":135,"gu":0.002744,"gus":"down","gd":-0.001280,"gds":"down"},
      {"i":136,"gu":0.002524,"gus":"down","gd":-0.000658,"gds":"down"},
      {"i":137,"gu":0.002195,"gus":"down","gd":-0.000293,"gds":"down"},
      {"i":138,"gu":0.001646,"gus":"down","gd":-0.000110,"gds":"up"},
      {"i":139,"gu":0.001317,"gus":"down","gd":-0.000073,"gds":"up"},
      {"i":140,"gu":0.000988,"gus":"down","gd":-0.000219,"gds":"up"},
      {"i":141,"gu":0.000805,"gus":"down"},
      {"i":142,"gu":0.000655,"gus":"down"}
    ],
    "bid": [{"p": 1.41047}]
  },
  "vconcat": [
    {
      "width": 1222,
      "height": 485,
      "layer": [
        {
          "data": {"name": "bid"},
          "mark": {"type": "rule", "color": "#5e1a1a", "strokeWidth": 1},
          "encoding": {
            "y": {"field": "p", "type": "quantitative", "scale": {"domain": [1.397842, 1.41805], "nice": false, "zero": false},
              "axis": {"orient": "right", "title": null, "tickCount": 60, "values": [1.39925, 1.4006, 1.40195, 1.4033, 1.40465, 1.406, 1.40735, 1.4087, 1.41005, 1.4114, 1.41275, 1.4141, 1.41545, 1.4168], "format": ".5f", "grid": true, "ticks": true, "tickSize": 3, "tickColor": "black", "labelPadding": 3, "labelOverlap": false}}
          }
        },
        {
          "data": {"name": "bars"},
          "mark": {"type": "rule", "color": "black", "strokeWidth": 1},
          "encoding": {
            "x": {"field": "i", "type": "quantitative", "scale": {"domain": [0.0375, 152.7875], "nice": false, "zero": false},
              "axis": {"title": null, "tickCount": 60, "values": [4, 8, 12, 16, 20, 24, 28, 32, 36, 40, 44, 48, 52, 56, 60, 64, 68, 72, 76, 80, 84, 88, 92, 96, 100, 104, 108, 112, 116, 120, 124, 128, 132, 136, 140, 144, 148, 152], "grid": true, "labels": false, "ticks": false}},
            "y": {"field": "l", "type": "quantitative", "scale": {"domain": [1.397842, 1.41805], "nice": false, "zero": false}},
            "y2": {"field": "h"}
          }
        },
        {
          "data": {"name": "bars"},
          "mark": {"type": "bar", "size": 4, "stroke": "black", "strokeWidth": 1},
          "encoding": {
            "x": {"field": "i", "type": "quantitative", "scale": {"domain": [0.0375, 152.7875], "nice": false, "zero": false}},
            "y": {"field": "o", "type": "quantitative", "scale": {"domain": [1.397842, 1.41805], "nice": false, "zero": false}},
            "y2": {"field": "c"},
            "fill": {"condition": {"test": "datum.c >= datum.o", "value": "white"}, "value": "black"}
          }
        },
        {
          "data": {"name": "lines"},
          "mark": {"type": "line", "strokeWidth": 2, "interpolate": "monotone"},
          "encoding": {
            "x": {"field": "i", "type": "quantitative", "scale": {"domain": [0.0375, 152.7875], "nice": false, "zero": false}},
            "y": {"field": "p", "type": "quantitative", "scale": {"domain": [1.397842, 1.41805], "nice": false, "zero": false}},
            "color": {"field": "s", "type": "nominal", "scale": {"domain": ["jaw", "teeth", "lips"], "range": ["#1450d8", "#ff0000", "#36c436"]}, "legend": null}
          }
        },
        {
          "data": {"name": "fractals"},
          "mark": {"type": "point", "filled": true, "size": 100, "fill": "#202020", "stroke": "#6f84b8", "strokeWidth": 0.6, "opacity": 1, "clip": true},
          "encoding": {
            "x": {"field": "i", "type": "quantitative", "scale": {"domain": [0.0375, 152.7875], "nice": false, "zero": false}},
            "y": {"field": "p", "type": "quantitative", "scale": {"domain": [1.397842, 1.41805], "nice": false, "zero": false}},
            "shape": {"field": "t", "type": "nominal", "scale": {"domain": ["up", "down"], "range": ["M0,-2.6L0.95,-0.8L0,-1.25L-0.95,-0.8Z", "M0,2.6L0.95,0.8L0,1.25L-0.95,0.8Z"]}, "legend": null}
          }
        },
        {
          "data": {"name": "bid"},
          "mark": {"type": "point", "filled": true, "size": 1936, "shape": "M-1,-0.27L1,-0.27L1,0.27L-1,0.27Z", "color": "#d00000", "opacity": 1},
          "encoding": {
            "x": {"datum": 155.66, "type": "quantitative", "scale": {"domain": [0.0375, 152.7875], "nice": false, "zero": false}},
            "y": {"field": "p", "type": "quantitative", "scale": {"domain": [1.397842, 1.41805], "nice": false, "zero": false}}
          }
        },
        {
          "data": {"name": "bid"},
          "mark": {"type": "text", "color": "white", "fontSize": 9.5, "align": "center", "baseline": "middle", "font": "Liberation Sans"},
          "encoding": {
            "x": {"datum": 155.66, "type": "quantitative", "scale": {"domain": [0.0375, 152.7875], "nice": false, "zero": false}},
            "y": {"field": "p", "type": "quantitative", "scale": {"domain": [1.397842, 1.41805], "nice": false, "zero": false}},
            "text": {"field": "p", "type": "quantitative", "format": ".5f"}
          }
        }
      ]
    },
    {
      "width": 1222,
      "height": 102,
      "title": {"text": "AO 0.001398"},
      "data": {"name": "bars"},
      "mark": {"type": "bar", "size": 3},
      "encoding": {
        "x": {"field": "i", "type": "quantitative", "scale": {"domain": [0.0375, 152.7875], "nice": false, "zero": false},
          "axis": {"title": null, "tickCount": 60, "values": [4, 8, 12, 16, 20, 24, 28, 32, 36, 40, 44, 48, 52, 56, 60, 64, 68, 72, 76, 80, 84, 88, 92, 96, 100, 104, 108, 112, 116, 120, 124, 128, 132, 136, 140, 144, 148, 152], "grid": true, "labels": false, "ticks": false}},
        "y": {"field": "ao", "type": "quantitative", "scale": {"domain": [-0.004491, 0.010586], "nice": false, "zero": false},
          "axis": {"orient": "right", "title": null, "tickCount": 10, "values": [-0.004491, 0, 0.010586], "format": ".6f", "labelFlush": true, "grid": true, "gridOpacity": {"condition": {"test": "datum.value == 0", "value": 1}, "value": 0}, "ticks": true, "tickSize": 3, "tickColor": "black", "labelPadding": 3}},
        "color": {"field": "aos", "type": "nominal", "scale": {"domain": ["up", "down"], "range": ["#008000", "#ff0000"]}, "legend": null}
      }
    },
    {
      "width": 1222,
      "height": 100,
      "title": {"text": "AC -0.0020293"},
      "data": {"name": "bars"},
      "mark": {"type": "bar", "size": 3},
      "encoding": {
        "x": {"field": "i", "type": "quantitative", "scale": {"domain": [0.0375, 152.7875], "nice": false, "zero": false},
          "axis": {"title": null, "tickCount": 60, "values": [4, 8, 12, 16, 20, 24, 28, 32, 36, 40, 44, 48, 52, 56, 60, 64, 68, 72, 76, 80, 84, 88, 92, 96, 100, 104, 108, 112, 116, 120, 124, 128, 132, 136, 140, 144, 148, 152], "grid": true, "labels": false, "ticks": false}},
        "y": {"field": "ac", "type": "quantitative", "scale": {"domain": [-0.0026056, 0.0040359], "nice": false, "zero": false},
          "axis": {"orient": "right", "title": null, "tickCount": 10, "values": [-0.0026056, 0, 0.0040359], "format": ".7f", "labelFlush": true, "grid": true, "gridOpacity": {"condition": {"test": "datum.value == 0", "value": 1}, "value": 0}, "ticks": true, "tickSize": 3, "tickColor": "black", "labelPadding": 2}},
        "color": {"field": "acs", "type": "nominal", "scale": {"domain": ["up", "down"], "range": ["#008000", "#ff0000"]}, "legend": null}
      }
    },
    {
      "width": 1222,
      "height": 85,
      "title": {"text": "Gator(13,8,5) 0.000655 0.000000"},
      "data": {"name": "gator"},
      "layer": [
        {
          "mark": {"type": "bar", "size": 3},
          "encoding": {
            "x": {"field": "i", "type": "quantitative", "scale": {"domain": [0.0375, 152.7875], "nice": false, "zero": false},
              "axis": {"title": null, "tickCount": 60, "values": [0, 4, 8, 12, 16, 20, 24, 28, 32, 36, 40, 44, 48, 52, 56, 60, 64, 68, 72, 76, 80, 84, 88, 92, 96, 100, 104, 108, 112, 116, 120, 124, 128, 132, 136, 140, 144, 148, 152], "grid": true,
                "gridOpacity": {"condition": {"test": "datum.value == 0", "value": 0}, "value": 1},
                "labelExpr": "datum.value % 8 == 0 && datum.value <= 136 ? ['29 Nov 2024','2 Dec 06:00','2 Dec 14:00','2 Dec 22:00','3 Dec 06:00','3 Dec 14:00','3 Dec 22:00','4 Dec 06:00','4 Dec 14:00','4 Dec 22:00','5 Dec 06:00','5 Dec 14:00','5 Dec 22:00','6 Dec 06:00','6 Dec 14:00','6 Dec 22:00','9 Dec 06:00','9 Dec 14:00'][datum.value / 8] : ''",
                "labelAlign": "left", "labelDx": -1, "labelPadding": 1, "labelFlush": false, "ticks": true, "tickSize": 4, "tickColor": "black",
                "tickOpacity": {"condition": {"test": "datum.value % 8 == 0 && datum.value <= 136", "value": 1}, "value": 0}}},
            "y": {"field": "gu", "type": "quantitative", "scale": {"domain": [-0.004722, 0.004605], "nice": false, "zero": false},
              "axis": {"orient": "right", "title": null, "tickCount": 10, "values": [-0.004722, 0, 0.004605], "format": ".6f", "labelFlush": true, "grid": true, "gridOpacity": {"condition": {"test": "datum.value == 0", "value": 1}, "value": 0}, "ticks": true, "tickSize": 3, "tickColor": "black", "labelPadding": 3}},
            "color": {"field": "gus", "type": "nominal", "scale": {"domain": ["up", "down"], "range": ["#008000", "#ff0000"]}, "legend": null}
          }
        },
        {
          "mark": {"type": "bar", "size": 3},
          "encoding": {
            "x": {"field": "i", "type": "quantitative", "scale": {"domain": [0.0375, 152.7875], "nice": false, "zero": false}},
            "y": {"field": "gd", "type": "quantitative", "scale": {"domain": [-0.004722, 0.004605], "nice": false, "zero": false}},
            "color": {"field": "gds", "type": "nominal", "scale": {"domain": ["up", "down"], "range": ["#008000", "#ff0000"]}, "legend": null}
          }
        }
      ]
    }
  ]
}
